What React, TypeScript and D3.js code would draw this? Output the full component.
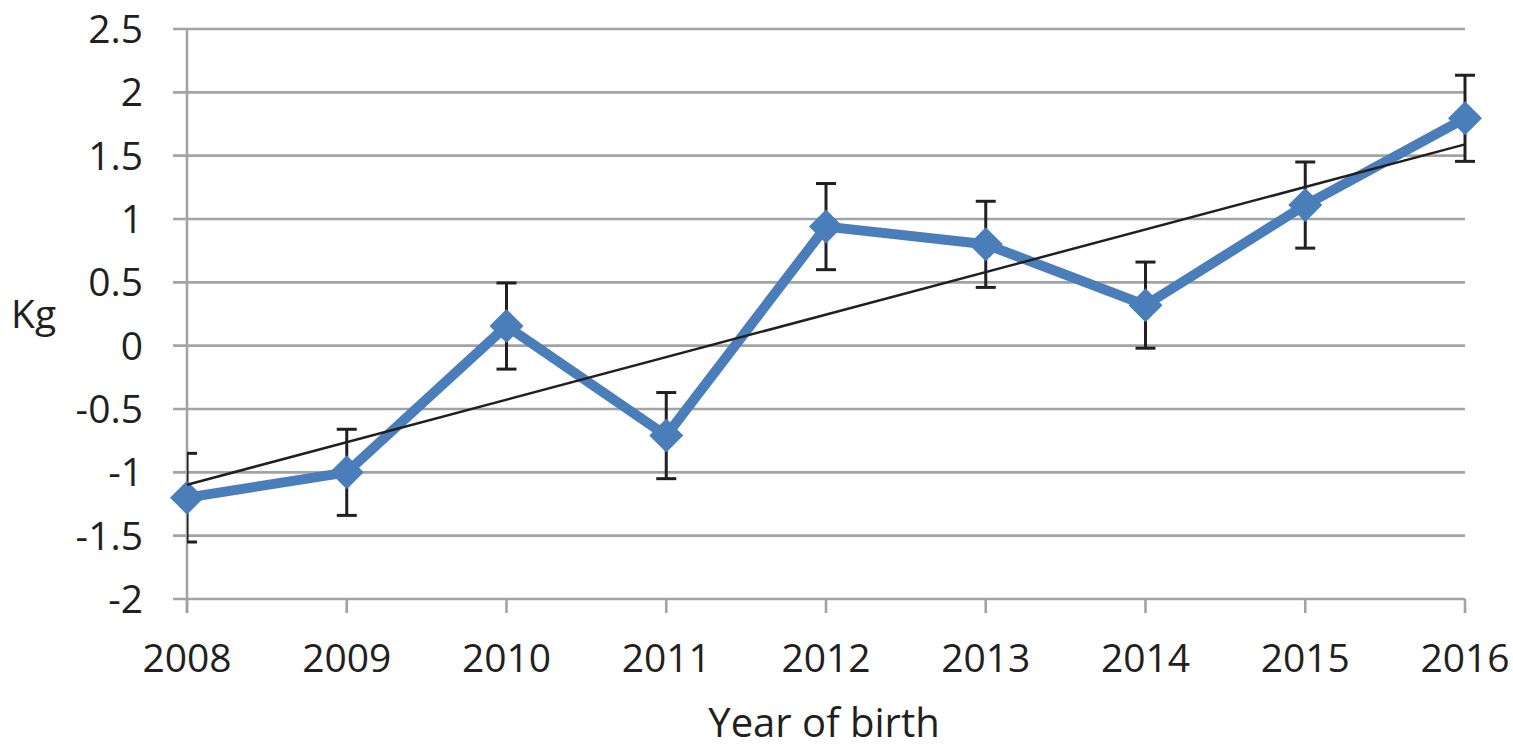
import React from "react";
import * as d3 from "d3";

const years = [2008, 2009, 2010, 2011, 2012, 2013, 2014, 2015, 2016];
const values = [-1.2, -1.0, 0.155, -0.71, 0.94, 0.8, 0.32, 1.11, 1.795];
const errors = [0.35, 0.34, 0.34, 0.34, 0.34, 0.34, 0.34, 0.34, 0.34];
const yTicks = [-2, -1.5, -1, -0.5, 0, 0.5, 1, 1.5, 2, 2.5];

const W = 1513;
const H = 744;
const left = 187;
const right = 1465;
const top = 29;
const bottom = 599;
const FONT = "'Open Sans', 'Noto Sans', sans-serif";
const FS = 39;

export default function App() {
  const x = d3.scalePoint<number>().domain(years).range([left, right]);
  const y = d3.scaleLinear().domain([-2, 2.5]).range([bottom, top]);

  // linear regression trendline
  const n = years.length;
  const xi = years.map((_, i) => i);
  const mx = d3.mean(xi)!;
  const my = d3.mean(values)!;
  const sxy = d3.sum(xi.map((v, i) => (v - mx) * (values[i] - my)));
  const sxx = d3.sum(xi.map((v) => (v - mx) * (v - mx)));
  const slope = sxy / sxx;
  const intercept = my - slope * mx;
  const t0 = intercept;
  const t1 = intercept + slope * (n - 1);

  const line = d3
    .line<number>()
    .x((_, i) => x(years[i])!)
    .y((d) => y(d));

  const gridColor = "#a3a3a3";
  const blue = "#4a7ebb";
  const dark = "#231f20";
  const dHalf = 17;

  return (
    <svg
      width={W}
      height={H}
      style={{ position: "absolute", left: 0, top: 0, background: "#fff" }}
    >
      <defs>
        <clipPath id="plotClip">
          <rect x={left} y={0} width={right - left + 40} height={H} />
        </clipPath>
      </defs>
      {yTicks.map((t) => (
        <line
          key={t}
          x1={left - 14}
          x2={right}
          y1={y(t)}
          y2={y(t)}
          stroke={gridColor}
          strokeWidth={2.6}
        />
      ))}
      <line x1={left} x2={left} y1={top} y2={bottom + 14} stroke={gridColor} strokeWidth={2.6} />
      {years.map((yr) => (
        <line
          key={yr}
          x1={x(yr)}
          x2={x(yr)}
          y1={bottom}
          y2={bottom + 14}
          stroke={gridColor}
          strokeWidth={2.6}
        />
      ))}
      {yTicks.map((t) => (
        <text
          key={t}
          x={143}
          y={y(t)}
          dy="0.36em"
          textAnchor="end"
          fontFamily={FONT}
          fontSize={FS}
          fill={dark}
        >
          {t}
        </text>
      ))}
      {years.map((yr) => (
        <text
          key={yr}
          x={x(yr)}
          y={672}
          textAnchor="middle"
          fontFamily={FONT}
          fontSize={FS}
          fill={dark}
        >
          {yr}
        </text>
      ))}
      <text x={11} y={328} fontFamily={FONT} fontSize={FS} fill={dark}>
        Kg
      </text>
      <text x={824} y={737} textAnchor="middle" fontFamily={FONT} fontSize={40} fill={dark}>
        Year of birth
      </text>
      <g clipPath="url(#plotClip)" stroke={dark} strokeWidth={3}>
        {years.map((yr, i) => {
          const cx = x(yr)!;
          const yt = y(values[i] + errors[i]);
          const yb = y(values[i] - errors[i]);
          return (
            <g key={yr}>
              <line x1={cx} x2={cx} y1={yt} y2={yb} />
              <line x1={cx - 10} x2={cx + 10} y1={yt} y2={yt} />
              <line x1={cx - 10} x2={cx + 10} y1={yb} y2={yb} />
            </g>
          );
        })}
      </g>
      <path d={line(values)!} fill="none" stroke={blue} strokeWidth={10} strokeLinejoin="round" />
      {values.map((v, i) => {
        const cx = x(years[i])!;
        const cy = y(v);
        return (
          <path
            key={i}
            d={`M${cx},${cy - dHalf}L${cx + dHalf},${cy}L${cx},${cy + dHalf}L${cx - dHalf},${cy}Z`}
            fill={blue}
          />
        );
      })}
      <line
        x1={x(years[0])}
        x2={x(years[n - 1])}
        y1={y(t0)}
        y2={y(t1)}
        stroke={dark}
        strokeWidth={2.5}
      />
    </svg>
  );
}
